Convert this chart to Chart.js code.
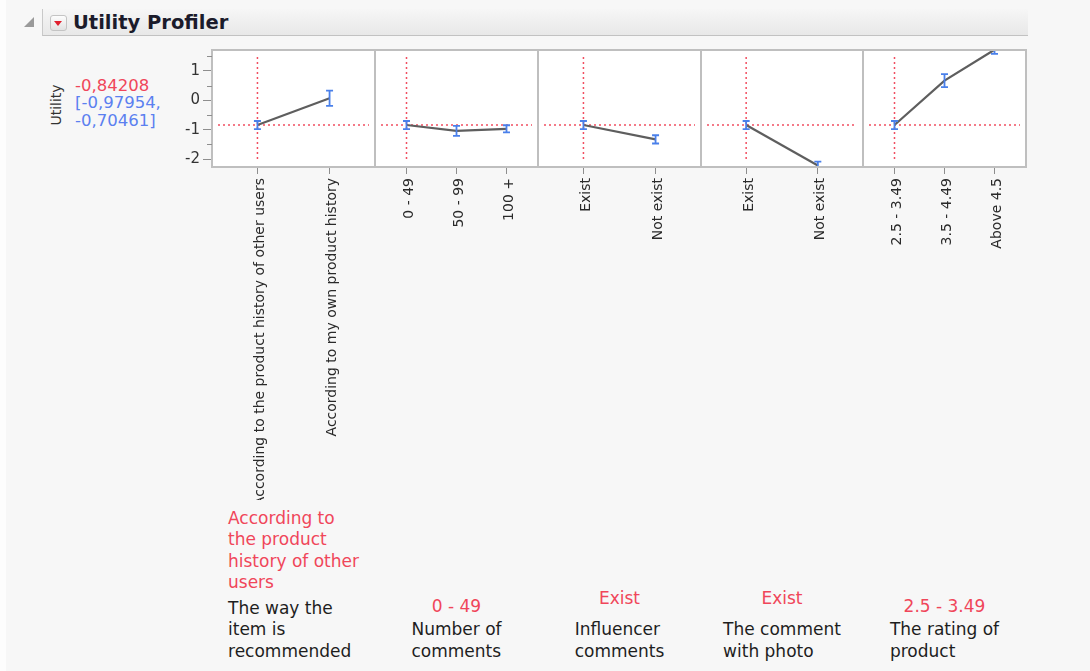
<!DOCTYPE html>
<html>
<head>
<meta charset="utf-8">
<title>Utility Profiler</title>
<script src="https://cdn.jsdelivr.net/npm/chart.js@4.4.1/dist/chart.umd.min.js"></script>
<style>
  html, body { margin: 0; padding: 0; }
  body {
    width: 1090px; height: 671px; position: relative; overflow: hidden;
    background: #f7f7f7; font-family: "DejaVu Sans", sans-serif;
  }
  #leftStrip { position: absolute; left: 0; top: 0; width: 6px; height: 671px; background: #fdfdfd; }
  #header {
    position: absolute; left: 42px; top: 9px; width: 985px; height: 26px;
    background: linear-gradient(#f6f6f6, #e8e8e8);
    border-left: 1px solid #c9c9c9; border-bottom: 1px solid #c2c2c2;
  }
  #disclose {
    position: absolute; left: 24px; top: 17px; width: 0; height: 0;
    border-left: 10px solid transparent; border-bottom: 10px solid #9a9a9a;
  }
  #menuBtn {
    position: absolute; left: 50px; top: 15px; width: 15px; height: 14px;
    border: 1px solid #c4c4c4; border-radius: 3px;
    background: linear-gradient(#fdfdfd, #e2e2e2);
  }
  #menuBtn::after {
    content: ""; position: absolute; left: 3px; top: 5px;
    border-left: 4.5px solid transparent; border-right: 4.5px solid transparent;
    border-top: 5px solid #e0202e;
  }
  #title {
    position: absolute; left: 73px; top: 11px; line-height: 24px;
    font: bold 19.5px "DejaVu Sans", sans-serif; color: #1b1b2b; white-space: nowrap;
  }
  #yTitle {
    position: absolute; left: 56px; top: 105px; transform: translate(-50%, -50%) rotate(-90deg);
    font-size: 14px; color: #333; white-space: nowrap;
  }
  .readout { position: absolute; left: 75px; font-size: 16.5px; line-height: 18px; white-space: nowrap; }
  #readValue { top: 77px; color: #f0465a; }
  #readInterval { top: 94px; color: #5b80f0; }
  canvas.panel { position: absolute; top: 40px; }
  .cell {
    position: absolute; bottom: 9px; display: flex; flex-direction: column; align-items: center;
    font-size: 17px; line-height: 21.5px;
  }
  .cell .inner { display: inline-block; }
  .cell .level { color: #f0465a; white-space: nowrap; }
  .cell .name { color: #1e1e1e; white-space: nowrap; }
</style>
</head>
<body>
<div id="leftStrip"></div>
<div id="header"></div>
<div id="disclose"></div>
<div id="menuBtn"></div>
<div id="title">Utility Profiler</div>
<div id="yTitle">Utility</div>
<div class="readout" id="readValue"></div>
<div class="readout" id="readInterval"></div>

<script>
// ---- Y scale shared by every factor panel ----
const yMin = -2.27;
const yMax = 1.71;
const yTickValues = [-2, -1.5, -1, -0.5, 0, 0.5, 1, 1.5];
const yTickLabels = ['-2', '', '-1', '', '0', '', '1', ''];

// ---- Factors ----
const factorNames = [
  'The way the item is recommended',
  'Number of comments',
  'Influencer comments',
  'The comment with photo',
  'The rating of product'
];

// ---- Levels, predicted utility and its confidence limits ----
const recLevels  = ['According to the product history of other users', 'According to my own product history'];
const recUtility = [-0.84208, 0.07];
const recLower   = [-0.97954, -0.19];
const recUpper   = [-0.70461, 0.33];

const commentLevels  = ['0 - 49', '50 - 99', '100 +'];
const commentUtility = [-0.84208, -1.04, -0.97];
const commentLower   = [-0.97954, -1.21, -1.09];
const commentUpper   = [-0.70461, -0.87, -0.85];

const influencerLevels  = ['Exist', 'Not exist'];
const influencerUtility = [-0.84208, -1.33];
const influencerLower   = [-0.97954, -1.47];
const influencerUpper   = [-0.70461, -1.19];

const photoLevels  = ['Exist', 'Not exist'];
const photoUtility = [-0.84208, -2.22];
const photoLower   = [-0.97954, -2.35];
const photoUpper   = [-0.70461, -2.09];

const ratingLevels  = ['2.5 - 3.49', '3.5 - 4.49', 'Above 4.5'];
const ratingUtility = [-0.84208, 0.67, 1.72];
const ratingLower   = [-0.97954, 0.45, 1.58];
const ratingUpper   = [-0.70461, 0.89, 1.86];

// Index of the currently selected level in each factor
const currentLevel = [0, 0, 0, 0, 0];

const panels = [
  { levels: recLevels,        utility: recUtility,        lower: recLower,        upper: recUpper },
  { levels: commentLevels,    utility: commentUtility,    lower: commentLower,    upper: commentUpper },
  { levels: influencerLevels, utility: influencerUtility, lower: influencerLower, upper: influencerUpper },
  { levels: photoLevels,      utility: photoUtility,      lower: photoLower,      upper: photoUpper },
  { levels: ratingLevels,     utility: ratingUtility,     lower: ratingLower,     upper: ratingUpper }
];

// ---- Layout ----
const panelEdges = [212, 375, 538, 701, 863, 1026];
const canvasTop = 40, canvasBottom = 500;
const plotTop = 50, plotBottom = 167;
const yAxisLeft = 130;
const overlap = 4;
const xMargin = 0.63;
const labelGaps = [4, 2, 10, 10, 2];
const wrapWidth = 138;

const RED = '#f0465a';
const BLUE = '#4a80ea';
const FRAME = '#bfbfbf';
const TICK = '#8e8e8e';

Chart.defaults.font.family = '"DejaVu Sans", sans-serif';
Chart.defaults.color = '#2a2a2a';

// Readouts for the current prediction
const fmt = v => v.toFixed(5).replace('.', ',');
{
  const p = panels[0], i = currentLevel[0];
  document.getElementById('readValue').textContent = fmt(p.utility[i]);
  document.getElementById('readInterval').innerHTML =
    '[' + fmt(p.lower[i]) + ',<br>' + fmt(p.upper[i]) + ']';
}

// Scales keep the plot area exactly where the layout puts it
const noScalePadding = s => { s.paddingTop = 0; s.paddingBottom = 0; s.paddingLeft = 0; s.paddingRight = 0; };

// White plot background and grey frame around each panel
const framePlugin = {
  id: 'frame',
  beforeDraw(chart) {
    const a = chart.chartArea, ctx = chart.ctx;
    ctx.save();
    ctx.fillStyle = '#ffffff';
    ctx.fillRect(a.left, a.top, a.right - a.left, a.bottom - a.top);
    ctx.restore();
  },
  afterDraw(chart) {
    const a = chart.chartArea, ctx = chart.ctx;
    ctx.save();
    ctx.strokeStyle = FRAME;
    ctx.lineWidth = 2;
    ctx.strokeRect(a.left, a.top, a.right - a.left, a.bottom - a.top);
    // minor y ticks (half units)
    const ys = chart.scales.y;
    if (ys.options.display) {
      ctx.strokeStyle = TICK;
      ctx.lineWidth = 1;
      yTickValues.forEach(v => {
        if (Number.isInteger(v)) return;
        const py = Math.round(ys.getPixelForValue(v)) + 0.5;
        ctx.beginPath();
        ctx.moveTo(a.left - 5, py);
        ctx.lineTo(a.left, py);
        ctx.stroke();
      });
    }
    ctx.restore();
  }
};

// Red dotted crosshair at the current level and current prediction
const crosshairPlugin = {
  id: 'crosshair',
  beforeDatasetsDraw(chart, args, opts) {
    const a = chart.chartArea, ctx = chart.ctx;
    const px = chart.scales.x.getPixelForValue(opts.level);
    const py = chart.scales.y.getPixelForValue(opts.value);
    ctx.save();
    ctx.strokeStyle = 'rgba(240,60,80,0.9)';
    ctx.lineWidth = 1.5;
    ctx.setLineDash([2, 3]);
    ctx.beginPath();
    ctx.moveTo(a.left + 6, py);
    ctx.lineTo(a.right - 6, py);
    ctx.stroke();
    ctx.beginPath();
    ctx.moveTo(px, a.top + 7);
    ctx.lineTo(px, a.bottom - 7);
    ctx.stroke();
    ctx.restore();
  }
};

// Confidence interval bars drawn at each level
const errorBarPlugin = {
  id: 'errorBars',
  afterDatasetsDraw(chart) {
    const a = chart.chartArea, ctx = chart.ctx;
    const ds = chart.data.datasets[0];
    const xs = chart.scales.x, ys = chart.scales.y;
    ctx.save();
    ctx.beginPath();
    ctx.rect(a.left, a.top, a.right - a.left, a.bottom - a.top);
    ctx.clip();
    ctx.strokeStyle = BLUE;
    ctx.lineWidth = 1.8;
    ds.lower.forEach((lo, i) => {
      const px = xs.getPixelForValue(i);
      const y1 = ys.getPixelForValue(lo), y2 = ys.getPixelForValue(ds.upper[i]);
      ctx.beginPath();
      ctx.moveTo(px, y1); ctx.lineTo(px, y2);
      ctx.moveTo(px - 3.5, y1); ctx.lineTo(px + 3.5, y1);
      ctx.moveTo(px - 3.5, y2); ctx.lineTo(px + 3.5, y2);
      ctx.stroke();
    });
    ctx.restore();
  }
};

panels.forEach((p, k) => {
  const first = k === 0;
  const left = first ? yAxisLeft : panelEdges[k] - overlap;
  const right = panelEdges[k + 1] + overlap;
  const width = right - left;
  const height = canvasBottom - canvasTop;

  const canvas = document.createElement('canvas');
  canvas.className = 'panel';
  canvas.width = width; canvas.height = height;
  canvas.style.left = left + 'px';
  canvas.style.width = width + 'px';
  canvas.style.height = height + 'px';
  document.body.appendChild(canvas);

  const n = p.levels.length;
  new Chart(canvas, {
    type: 'line',
    data: {
      datasets: [{
        data: p.utility.map((v, i) => ({ x: i, y: v })),
        lower: p.lower,
        upper: p.upper,
        borderColor: '#5e5e5e',
        borderWidth: 2.2,
        pointRadius: 0,
        tension: 0
      }]
    },
    options: {
      responsive: false,
      animation: false,
      events: [],
      layout: {
        autoPadding: false,
        padding: { top: plotTop - canvasTop, left: first ? 0 : overlap, right: overlap, bottom: 0 }
      },
      plugins: {
        legend: { display: false },
        tooltip: { enabled: false },
        crosshair: { level: currentLevel[k], value: p.utility[currentLevel[k]] }
      },
      scales: {
        x: {
          type: 'linear',
          min: -xMargin,
          max: n - 1 + xMargin,
          afterBuildTicks: s => { s.ticks = p.levels.map((_, i) => ({ value: i })); },
          afterFit: s => { s.height = canvasBottom - plotBottom; noScalePadding(s); },
          border: { display: false },
          grid: { drawOnChartArea: false, drawTicks: true, tickLength: 7, color: TICK, lineWidth: 1 },
          ticks: {
            autoSkip: false, minRotation: 90, maxRotation: 90, padding: 4, labelOffset: 3,
            font: { size: 14 }, color: '#2a2a2a',
            callback: (v, i) => p.levels[i]
          }
        },
        y: {
          display: first,
          min: yMin,
          max: yMax,
          afterBuildTicks: s => { s.ticks = yTickValues.map(v => ({ value: v })); },
          afterFit: s => { if (first) s.width = panelEdges[0] - yAxisLeft; noScalePadding(s); },
          border: { display: false },
          grid: {
            drawOnChartArea: false, drawTicks: true, tickLength: 9, lineWidth: 1,
            color: c => (c.tick && Number.isInteger(c.tick.value)) ? TICK : 'rgba(0,0,0,0)'
          },
          ticks: {
            padding: 3, font: { size: 15 }, color: '#333',
            callback: (v, i) => yTickLabels[i]
          }
        }
      }
    },
    plugins: [framePlugin, crosshairPlugin, errorBarPlugin]
  });
});

// Current level and factor name under each panel
const measure = document.createElement('canvas').getContext('2d');
measure.font = '17px "DejaVu Sans"';
function wrap(text) {
  const words = text.split(' ');
  const lines = [];
  let line = '';
  words.forEach(w => {
    const test = line ? line + ' ' + w : w;
    if (line && measure.measureText(test).width > wrapWidth) { lines.push(line); line = w; }
    else line = test;
  });
  if (line) lines.push(line);
  return lines;
}

panels.forEach((p, k) => {
  const cell = document.createElement('div');
  cell.className = 'cell';
  cell.style.left = panelEdges[k] + 'px';
  cell.style.width = (panelEdges[k + 1] - panelEdges[k]) + 'px';
  const inner = document.createElement('div');
  inner.className = 'inner';
  const lvl = document.createElement('div');
  lvl.className = 'level';
  const lvlLines = wrap(p.levels[currentLevel[k]]);
  lvl.innerHTML = lvlLines.join('<br>');
  lvl.style.textAlign = lvlLines.length > 1 ? 'left' : 'center';
  lvl.style.marginBottom = labelGaps[k] + 'px';
  const name = document.createElement('div');
  name.className = 'name';
  name.innerHTML = wrap(factorNames[k]).join('<br>');
  inner.appendChild(lvl);
  inner.appendChild(name);
  cell.appendChild(inner);
  document.body.appendChild(cell);
});
</script>
</body>
</html>
